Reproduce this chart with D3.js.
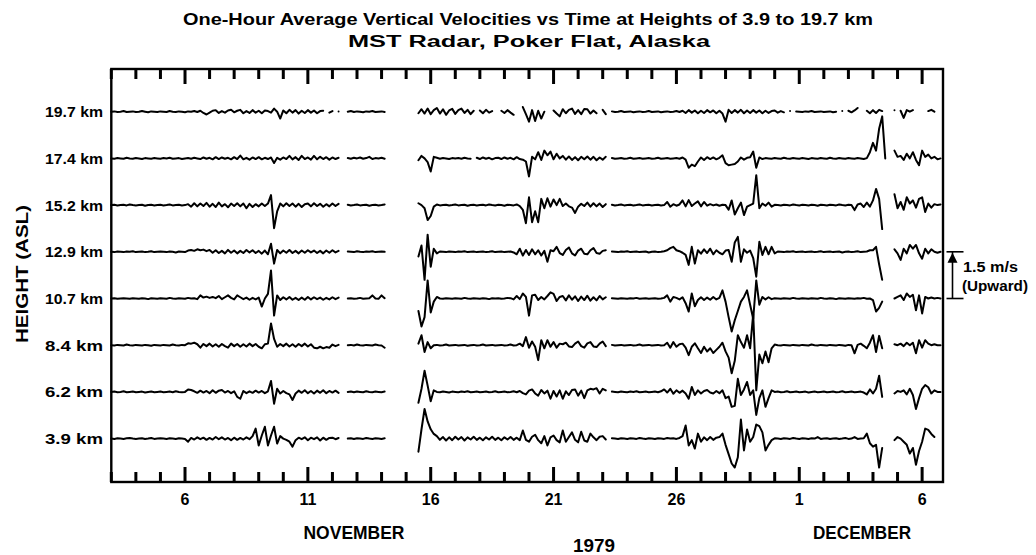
<!DOCTYPE html>
<html><head><meta charset="utf-8">
<script src="https://cdn.jsdelivr.net/npm/d3@7"></script>
<style>
body{margin:0;background:#fff}
svg{display:block}
text{font-family:"Liberation Sans Narrow","Liberation Sans",Arial,sans-serif;font-weight:bold;fill:#000}
</style>
</head><body>
<svg id="c" width="1036" height="555"></svg>
<script>
const _ = null;
// Heights (km) of the eight traces, top to bottom
const heights = ["19.7","17.4","15.2","12.9","10.7","8.4","6.2","3.9"];
// Vertical velocity, cm/s, one value every 3 hours starting 3 Nov 1979 00 UT (null = no data)
const h197 = [
0,1,-1,0,2,-1,0,1, -1,0,2,0,-2,1,0,-1, 1,0,-1,2,0,-1,1,0, -2,1,0,2,-1,3,-4,-9,
-3,3,5,-4,2,-3,4,6, -2,3,6,-5,2,-4,5,-3, 3,-5,4,2,-3,10,0,-22, 4,-5,6,-3,5,-6,3,-4,
5,-3,4,-5,2,3,_,-3, 2,_,1,_,_,0,2,-1, 1,0,-2,1,0,2,-1,0, 1,-1,_,_,_,_,_,_,
_,_,_,_,-5,8,-6,10, -8,5,12,-6,8,-10,4,9, -7,5,10,-4,6,-8,3,_, 4,-5,6,-3,2,_,_,3,
-4,5,-3,-10,_,_,15,-8, -32,5,-30,3,-22,0,_,_, 4,-6,-15,8,-5,6,10,-7, 5,-8,9,8,-6,4,-5,_,
6,-8,_,1,-1,0,2,-1, 0,1,-2,0,1,-1,0,2, -1,0,1,-2,0,1,-1,0, 2,-1,3,-4,5,-3,4,-5,
3,-4,5,-2,4,-5,3,-6, -32,6,-4,5,-3,6,-5,4, -4,5,-3,4,-5,3,-4,2, 4,-3,2,-2,_,2,_,1,
0,-1,1,0,2,-1,0,1, -1,0,1,-2,0,_,2,_, 3,-2,4,12,_,_,3,-5, 5,-4,6,2,_,_,_,5,
_,3,-20,5,0,5,_,_, _,_,2,6,0,_,_];
const h174 = [
0,-1,1,0,-1,2,0,-1, 1,0,-2,1,0,-1,1,0, -1,1,0,2,-1,0,1,-2, 0,1,-1,2,0,-2,3,-1,
2,-3,4,-2,3,-1,2,-3, 4,-2,9,-3,2,-4,3,-2, 4,-3,2,-2,3,-15,2,-4, 3,-2,8,-3,4,-5,8,-2,
3,-4,8,-3,5,-2,4,-4, 3,-2,2,_,_,1,-1,2, 0,3,-1,1,5,-2,1,0, 2,-1,_,_,_,_,_,_,
_,_,_,_,-6,8,0,-12, -42,5,2,-1,1,0,-2,1, 0,1,-1,2,0,-1,_,2, -2,3,-1,2,-3,1,2,-2,
3,-1,2,-3,4,-2,-4,-10, -58,5,-3,20,-5,25,10,22, -3,15,0,8,-4,6,-5,4, -6,5,-3,6,-4,5,-6,3,
-4,5,_,1,-1,0,1,-1, 0,2,-1,0,1,-1,0,1, -1,0,2,-1,0,1,-1,0, 1,-1,3,-4,-30,-20,-25,-10,
3,-5,4,-2,3,-3,2,10, -15,-22,-20,-18,-10,3,-4,2, 4,22,-30,3,-2,1,0,-1, 1,0,-1,2,0,-1,1,0,
-1,1,0,-2,1,0,-1,1, 0,-1,2,0,-1,1,0,-1, 1,0,-1,1,0,-2,1,20, 50,25,95,135,0,_,_,25,
5,8,-5,15,0,20,-5,-22, 25,5,12,0,5,-3,0];
const h152 = [
0,1,-1,0,1,-1,2,0, -1,0,1,-2,0,1,-1,0, 1,-1,0,2,-1,0,1,-1, 0,3,-5,6,-4,5,-3,7,
-5,4,-6,8,-4,3,-7,5, -3,6,-4,5,-10,4,-6,3, -4,5,-3,5,32,-74,-20,5, -4,6,-3,5,-5,4,-6,3,
5,-4,6,-3,4,-5,3,-4, 5,-3,4,_,_,1,-1,0, 2,-1,0,1,-2,0,1,-1, 0,2,_,_,_,_,_,_,
_,_,_,_,6,0,-10,-48, -35,-5,2,-1,0,1,-1,0, 2,-1,0,1,-2,0,1,-1, 0,1,-1,2,0,-1,1,0,
-2,1,0,-1,2,-3,-15,-58, 25,-55,-20,-55,20,-10,22,-5, 18,0,20,-3,5,-4,-8,-25, -5,4,-3,8,-5,6,-4,5,
-6,3,_,1,-1,0,2,-1, 0,1,-1,0,2,-1,0,1, -1,0,1,-1,0,10,-5,3, -2,2,15,-4,16,-3,5,12,
-4,10,-2,3,-1,2,-2,1, 0,-15,15,-30,-10,8,-32,-5, 0,5,96,-10,5,-2,8,-5, 1,0,-1,1,0,-1,2,0,
-1,1,0,-1,1,0,-2,1, 0,-1,1,0,-1,2,0,-1, 1,0,-16,2,5,-6,8,-5, 15,52,20,-77,_,_,_,35,
-10,10,-15,25,5,15,-8,20, 25,-22,5,-8,3,0,2];
const h129 = [
0,-1,1,0,-1,1,0,2, -1,0,1,-1,0,2,-1,0, 1,0,-1,1,0,-2,1,0, -1,4,6,3,8,5,7,2,
6,-3,5,-4,3,-5,6,-3, 4,-5,3,-4,6,-2,5,-4, 3,-6,4,-8,26,-38,6,-5, 4,-3,6,-4,3,-5,4,-3,
5,-2,4,-4,3,-5,4,-3, 5,-2,3,_,_,1,0,-1, 2,0,-1,1,0,2,-1,0, 1,0,_,_,_,_,_,_,
_,_,_,_,-15,20,-90,55, -48,10,-5,1,0,-1,1,0, -1,1,0,2,-1,0,1,-1, 0,1,-1,0,2,-1,0,1,
-1,0,1,-2,-8,10,-12,6, -10,8,-8,5,-12,3,-32,5, 2,16,-4,-10,6,14,-5,-12, 4,10,-6,-8,5,12,-4,-6,
3,5,_,1,0,-1,1,0, 2,-1,0,1,-1,0,1,-2, 0,1,-1,0,2,5,12,16, 5,2,-3,-10,-42,16,-38,5,
-6,8,-4,10,-8,5,-3,-8, 4,6,-32,30,48,-32,8,-3, 4,-20,-80,32,-10,16,-8,16, -5,1,0,-1,1,0,2,-1,
0,1,-1,0,1,-1,0,2, -1,0,1,-1,0,1,-2,0, 1,-1,0,2,-1,0,1,5, 5,16,-40,-90,_,_,_,8,
-5,-26,10,-5,22,10,22,-5, -22,10,-5,8,0,-3,0];
const h107 = [
0,1,-1,0,1,0,-1,1, 0,-1,1,0,-2,1,0,-1, 1,0,-1,2,0,-1,1,0, -1,2,0,1,-2,10,3,6,
2,5,1,8,-2,4,10,2, -3,10,4,-2,3,-4,2,-3, 3,-26,0,15,90,-55,10,-5, 4,-3,5,-4,2,-5,3,-4,
5,-3,4,-2,3,-4,2,-3, 4,-2,3,_,_,0,1,-1, 0,2,-1,0,1,10,0,-1, 10,1,_,_,_,_,_,_,
_,_,_,_,-40,-90,-60,58, -45,-10,5,0,-1,1,0,-1, 1,0,-1,2,0,-1,1,0, -1,1,0,-2,1,0,1,-1,
0,2,1,-3,8,-2,16,5, -55,10,12,-5,5,-3,8,20, 15,-8,5,8,-6,10,-4,7, -8,6,-5,9,-7,4,-6,8,
-3,4,_,1,0,-1,1,0, -1,1,0,2,-1,0,1,-1, 0,1,-1,0,2,10,-10,5, 2,-3,4,-15,-42,16,-25,-5,
4,-5,3,-4,5,-3,2,26, -10,-60,-106,-70,-40,-10,5,26, -20,-65,58,-20,5,-3,4,-2, 1,0,-1,1,0,-1,2,0,
-1,1,0,-1,1,0,-1,2, 0,-1,1,0,-2,1,0,-1, 1,0,-1,1,0,2,-1,0, -5,-42,-30,-10,_,_,_,0,
5,10,-5,16,5,12,-38,10, -48,5,0,3,0,2,0];
const h84 = [
0,-1,1,0,-1,2,0,-1, 1,0,-1,1,0,-2,1,0, -1,1,0,-1,2,0,-1,1, 0,6,5,8,3,-8,4,-3,
5,-4,3,-5,4,-3,-8,5, -3,4,-5,3,-4,5,-3,4, -5,-10,3,5,70,20,-5,4, -3,5,-4,3,-5,4,-3,5,
-4,3,-8,-10,-5,-10,-6,-8, 2,-3,1,_,_,0,1,-1, 2,0,-1,1,0,-1,2,0, -1,-8,_,_,_,_,_,_,
_,_,_,_,5,32,-22,10, -10,0,1,-1,0,2,-1,0, 1,-1,0,1,-2,0,1,-1, 0,2,-1,0,1,-1,0,1,
-1,0,2,-1,0,5,-3,26, -8,12,-5,-48,16,-10,16,-5, 10,-8,5,3,8,-4,-6,5, 12,-3,-8,6,10,-4,-6,5,
12,-3,_,1,-1,0,1,-1, 0,1,-1,0,2,-1,0,1, -1,0,1,-1,0,8,-8,10, -5,3,5,-8,-32,-5,6,-10,
-25,-5,-20,-10,-25,-15,-5,8, -20,-40,-90,-50,32,10,-8,32, -10,100,-145,-30,-58,-20,-55,-10, 2,0,-1,1,0,-1,1,0,
-1,1,0,-1,2,0,-1,1, 0,-1,1,0,-1,1,0,-2, 1,0,-26,1,5,-2,-10,8, 32,-22,30,-10,_,_,_,3,
0,5,-3,8,0,8,-26,16, -8,16,5,0,3,0,0];
const h62 = [
0,1,-1,0,2,-1,0,1, -1,0,1,-2,0,1,-1,0, 1,-1,0,1,-1,2,0,-1, 0,8,6,2,-3,4,-2,3,
-4,5,-3,4,6,-2,3,-4, 2,-16,-22,3,-4,2,-3,4, -2,3,-4,2,35,-38,10,-5, 3,-4,-8,-26,-5,4,-3,5,
-4,3,-5,4,-3,5,-4,3, -2,4,-3,_,_,0,1,-1, 1,0,-1,2,0,-1,1,0, -1,1,_,_,_,_,_,_,
_,_,_,_,-35,10,68,20, -30,5,0,-1,1,0,-2,1, 0,-1,1,0,2,-1,0,1, -1,0,1,-1,0,2,-1,0,
1,-1,0,2,-1,3,-4,-8, 4,8,-5,-12,6,-5,4,-22, 3,-15,5,-22,2,-10,6,8, -12,4,-20,5,10,8,12,-5,
10,5,_,1,0,-1,1,0, -1,1,0,2,-1,0,1,-1, 0,1,-1,2,8,-2,10,-6, 5,-3,4,-5,-22,16,-10,5,
-5,3,6,-2,-5,3,-4,5, -20,-15,-48,-45,42,-10,8,32, -10,5,-74,-20,5,-48,-20,5, 0,1,-1,0,2,-1,0,1,
-1,0,1,-2,0,1,-1,0, 1,-1,0,1,-1,0,2,-1, 0,1,-1,0,1,-2,-8,8, -5,10,52,-16,_,_,_,-5,
3,0,5,-8,10,-10,-55,-20, 10,22,15,-5,5,0,0];
const h39 = [
0,-1,1,0,-1,1,2,0, -1,0,1,-1,0,2,-1,0, 1,0,-1,1,0,-1,1,0, -1,-10,2,-3,4,-2,3,-4,
2,-3,5,-2,4,-3,2,-5, 3,-4,2,-3,4,-2,8,32, -22,10,38,-22,10,38,-16,8, 0,-4,-10,-26,-5,3,-2,4,
-5,3,-2,4,-6,3,-4,2, 3,-2,2,_,_,0,1,-1, 1,0,-1,2,0,-1,1,0, -1,1,_,_,_,_,_,_,
_,_,_,_,-42,30,95,55, 30,15,8,-4,5,-6,4,-5, 6,-3,5,-6,4,-3,6,-4, 3,-5,4,-3,6,-4,3,-5,
4,-3,5,-4,3,-5,26,-4, -10,6,12,-5,-15,8,-22,4, 10,-5,-12,26,-10,5,20,-4, -12,22,-6,-10,16,4,-5,6,
8,-3,_,1,0,-1,1,0, -1,1,0,-1,2,0,-1,1, 0,-1,1,0,-1,2,0,1, -1,2,8,42,-22,-5,-32,16,
-10,4,-5,5,-4,3,5,16, -20,-50,-80,-93,-60,61,-38,29, -10,5,45,40,20,-38,-20,-5, 1,0,-1,1,0,-1,2,0,
-1,1,0,-1,1,0,5,-1, 0,1,-1,0,1,-1,0,2, -1,0,5,-1,0,1,16,-15, -26,-20,-93,-30,_,_,_,-5,
5,0,-10,-20,-48,-30,-84,-40, -10,32,28,15,5,_,_];
const seriesList = [h197,h174,h152,h129,h107,h84,h62,h39];
// Axis labels
const majorDays = [[1979,10,6],[1979,10,11],[1979,10,16],[1979,10,21],[1979,10,26],[1979,11,1],[1979,11,6]];
const majorLabels = ["6","11","16","21","26","1","6"];
const monthLabels = ["NOVEMBER","DECEMBER"];
const yearLabel = "1979";
const titleLines = ["One-Hour Average Vertical Velocities vs Time at Heights of 3.9 to 19.7 km","MST Radar, Poker Flat, Alaska"];
const scaleBarValue = 150; // cm/s (1.5 m/s)

const svg = d3.select("#c");
const L = 111.3, R = 943, T = 69, B = 482;
const t0 = new Date(Date.UTC(1979,10,3));
const t1 = new Date(Date.UTC(1979,11,6,20,24));
const x = d3.scaleUtc().domain([t0,t1]).range([L,R]);
const yBand = d3.scalePoint().domain(heights).range([111.7,438.6]);
const vel = d3.scaleLinear().domain([0,150]).range([0,-46.7]);
const timeAt = i => new Date(t0.getTime() + i*3*3600*1000);

// frame
svg.append("rect").attr("x",L).attr("y",T).attr("width",R-L).attr("height",B-T)
  .attr("fill","none").attr("stroke","#000").attr("stroke-width",2.4);

const majors = majorDays.map(d=>new Date(Date.UTC(d[0],d[1],d[2])));
svg.append("g").selectAll("text").data(majors).join("text")
  .attr("x",d=>x(d)).attr("y",505).attr("text-anchor","middle").attr("font-size",16)
  .style("font-family","'Liberation Sans',Arial,sans-serif")
  .text((d,i)=>majorLabels[i]);

// traces
const line = d3.line().defined(v=>v!==null).x((v,i)=>x(timeAt(i)));
seriesList.forEach((s,k)=>{
  const base = yBand(heights[k]);
  svg.append("path").datum(s)
    .attr("d", line.y(v=>base+vel(v)))
    .attr("fill","none").attr("stroke","#000").attr("stroke-width",2)
    .attr("stroke-linejoin","round").attr("stroke-linecap","round");
  svg.append("text").attr("x",103).attr("y",base).attr("dy","0.36em")
    .attr("text-anchor","end").attr("font-size",15)
    .attr("textLength",58).attr("lengthAdjust","spacingAndGlyphs")
    .text(heights[k]+" km");
});

// titles
svg.append("text").attr("x",528).attr("y",25).attr("text-anchor","middle").attr("font-size",16)
  .attr("textLength",690).attr("lengthAdjust","spacingAndGlyphs").text(titleLines[0]);
svg.append("text").attr("x",529).attr("y",47).attr("text-anchor","middle").attr("font-size",16)
  .attr("textLength",362).attr("lengthAdjust","spacingAndGlyphs").text(titleLines[1]);

// y label
svg.append("text").attr("transform","translate(28,274) rotate(-90)").attr("text-anchor","middle")
  .attr("font-size",17).attr("textLength",138).attr("lengthAdjust","spacingAndGlyphs").text("HEIGHT (ASL)");

// month / year
svg.append("text").attr("x",354).attr("y",539).attr("text-anchor","middle").attr("font-size",18)
  .attr("textLength",101).attr("lengthAdjust","spacingAndGlyphs").text(monthLabels[0]);
svg.append("text").attr("x",862).attr("y",539).attr("text-anchor","middle").attr("font-size",18)
  .attr("textLength",98).attr("lengthAdjust","spacingAndGlyphs").text(monthLabels[1]);
svg.append("text").attr("x",594).attr("y",552).attr("text-anchor","middle").attr("font-size",19)
  .attr("textLength",42).attr("lengthAdjust","spacingAndGlyphs").text(yearLabel);

// scale bar 1.5 m/s
const sb0 = yBand("10.7"), sb1 = yBand("10.7")+vel(scaleBarValue), sx = 952.5;
const sg = svg.append("g").attr("stroke","#000").attr("stroke-width",1.6);
sg.append("line").attr("x1",sx).attr("x2",sx).attr("y1",sb0).attr("y2",sb1);
sg.append("line").attr("x1",sx-6).attr("x2",sx+11).attr("y1",sb0).attr("y2",sb0);
sg.append("line").attr("x1",sx-6).attr("x2",sx+11).attr("y1",sb1).attr("y2",sb1);
svg.append("path").attr("d",`M${sx},${sb1+1}L${sx-5},${sb1+11}L${sx+5},${sb1+11}Z`).attr("fill","#000");
svg.append("text").attr("x",963).attr("y",272).attr("font-size",15)
  .attr("textLength",55).attr("lengthAdjust","spacingAndGlyphs").text("1.5 m/s");
svg.append("text").attr("x",962).attr("y",291).attr("font-size",15)
  .attr("textLength",66).attr("lengthAdjust","spacingAndGlyphs").text("(Upward)");

// day ticks, top and bottom, pointing inward (filled bars, drawn last)
const days = d3.utcDay.range(t0, new Date(Date.UTC(1979,11,7)));
const majorSet = new Set(majors.map(Number));
const tickLen = d => majorSet.has(+d) ? 15 : 10;
const tickG = svg.append("g").attr("fill","#000");
days.forEach(d=>{
  const xx = x(d);
  tickG.append("rect").attr("x",xx-1.5).attr("width",3).attr("y",B-tickLen(d)).attr("height",tickLen(d));
  tickG.append("rect").attr("x",xx-1.5).attr("width",3).attr("y",T).attr("height",tickLen(d));
});
</script>
</body></html>
